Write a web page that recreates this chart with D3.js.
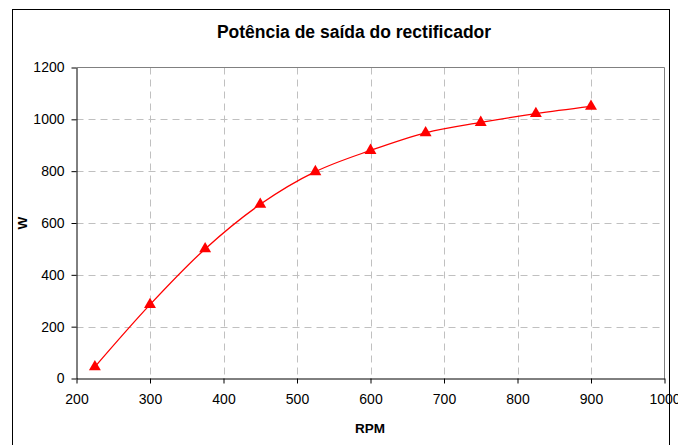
<!DOCTYPE html>
<html><head><meta charset="utf-8">
<script src="https://cdn.jsdelivr.net/npm/d3@7"></script>
<style>body{margin:0;background:#fff}svg{display:block;font-family:"Liberation Sans",Arial,sans-serif}</style>
</head><body><svg id="c" width="678" height="445"></svg>
<script>
const rpm = [225, 300, 375, 450, 525, 600, 675, 750, 825, 900];
const watts = [45, 285, 500, 672, 798, 880, 948, 988, 1022, 1050];
const xTicks = [200, 300, 400, 500, 600, 700, 800, 900, 1000];
const yTicks = [0, 200, 400, 600, 800, 1000, 1200];
const title = "Potência de saída do rectificador";
const xLabel = "RPM", yLabel = "W";

const svg = d3.select("#c");
const L = 76.5, R = 664.5, T = 67.5, B = 378.5;
const x = d3.scaleLinear().domain([200, 1000]).range([L, R]);
const y = d3.scaleLinear().domain([0, 1200]).range([B, T]);

svg.append("rect").attr("x", 12.5).attr("y", 9.5).attr("width", 657).attr("height", 450)
  .attr("fill", "#fff").attr("stroke", "#000").attr("stroke-width", 1);

const grid = svg.append("g").attr("stroke", "#c0c0c0").attr("stroke-dasharray", "7,5");
grid.selectAll(".gx").data(xTicks.slice(1, -1)).join("line")
  .attr("x1", d => Math.round(x(d)) + 0.5).attr("x2", d => Math.round(x(d)) + 0.5)
  .attr("y1", T).attr("y2", B);
grid.selectAll(".gy").data(yTicks.slice(1, -1)).join("line")
  .attr("y1", d => Math.round(y(d)) + 0.5).attr("y2", d => Math.round(y(d)) + 0.5)
  .attr("x1", L).attr("x2", R);
svg.append("path").attr("d", `M${L},${T}H${R}V${B}`).attr("fill", "none").attr("stroke", "#808080");

const fmt = d3.format("d");
const xAxis = svg.append("g").attr("transform", `translate(0,${B})`)
  .call(d3.axisBottom(x).tickValues(xTicks).tickFormat(fmt).tickSize(5).tickSizeOuter(0).tickPadding(11));
const yAxis = svg.append("g").attr("transform", `translate(${L},0)`)
  .call(d3.axisLeft(y).tickValues(yTicks).tickFormat(fmt).tickSize(5).tickSizeOuter(0).tickPadding(7));
[xAxis, yAxis].forEach(a => {
  a.selectAll("text").attr("font-size", 14).attr("fill", "#000").attr("font-family", "Liberation Sans, Arial, sans-serif");
  a.select(".domain").attr("stroke", "#000");
  a.selectAll("line").attr("stroke", "#000");
});

const line = d3.line().x((d, i) => x(rpm[i])).y(d => y(d)).curve(d3.curveCatmullRom.alpha(0.5));
svg.append("path").attr("d", line(watts)).attr("fill", "none").attr("stroke", "#ff0000").attr("stroke-width", 1.3);

const tri = d3.symbol().type(d3.symbolTriangle).size(62);
svg.selectAll(".m").data(watts).join("path")
  .attr("transform", (d, i) => `translate(${x(rpm[i])},${y(d)})`)
  .attr("d", tri).attr("fill", "#ff0000");

svg.append("text").attr("x", 354).attr("y", 38).attr("text-anchor", "middle")
  .attr("font-size", 17.5).attr("font-weight", "bold").text(title);
svg.append("text").attr("x", 370).attr("y", 433).attr("text-anchor", "middle")
  .attr("font-size", 13.5).attr("font-weight", "bold").text(xLabel);
svg.append("text").attr("transform", `translate(27,223) rotate(-90)`).attr("text-anchor", "middle")
  .attr("font-size", 13.5).attr("font-weight", "bold").text(yLabel);
</script></body></html>
